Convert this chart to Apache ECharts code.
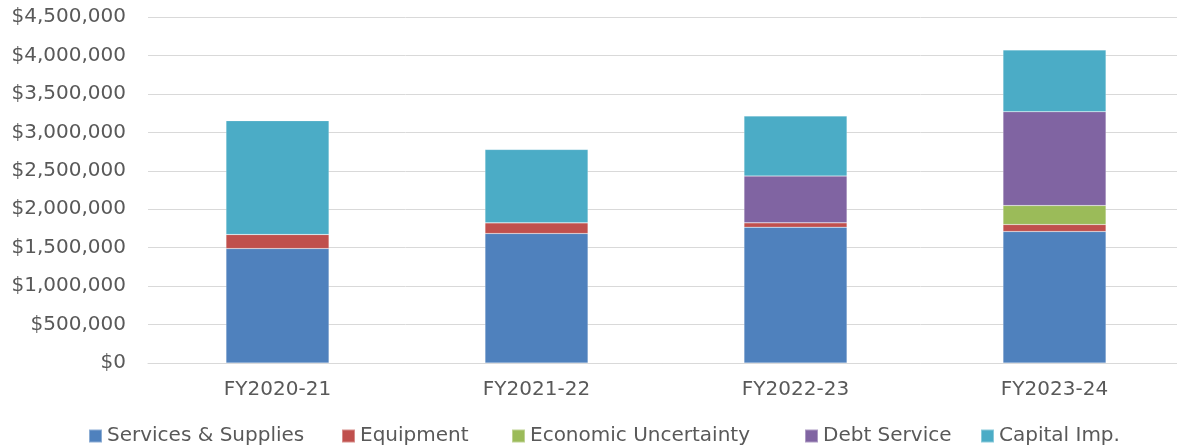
<!DOCTYPE html>
<html>
<head>
<meta charset="utf-8">
<script src="https://cdn.jsdelivr.net/npm/echarts@6/dist/echarts.min.js"></script>
<style>
  html, body { margin: 0; padding: 0; background: #fff; }
  #chart { width: 1177px; height: 445px; }
</style>
</head>
<body>
<div id="chart"></div>
<script>
const categories = ['FY2020-21', 'FY2021-22', 'FY2022-23', 'FY2023-24']
const servicesSupplies = [1488000, 1684000, 1767000, 1710000]
const equipment = [183000, 139000, 56000, 91000]
const economicUncertainty = [0, 0, 0, 247000]
const debtService = [0, 0, 608000, 1220000]
const capitalImp = [1480000, 954000, 781000, 804000]
const yTicks = [0, 500000, 1000000, 1500000, 2000000, 2500000, 3000000, 3500000, 4000000, 4500000]

const seriesDefs = [
  { name: 'Services & Supplies', data: servicesSupplies, color: '#4f81bd' },
  { name: 'Equipment', data: equipment, color: '#c0504d' },
  { name: 'Economic Uncertainty', data: economicUncertainty, color: '#9bbb59' },
  { name: 'Debt Service', data: debtService, color: '#8064a2' },
  { name: 'Capital Imp.', data: capitalImp, color: '#4bacc6' },
]
// left edge of each legend entry
const legendLeft = [83, 336, 506, 799, 975]

const font = '"DejaVu Sans", sans-serif'
const myChart = echarts.init(document.getElementById('chart'), null, { renderer: 'canvas' })

const option = {
  animation: false,
  textStyle: { fontFamily: font },
  // plot runs slightly past the right edge, as in the cropped original
  grid: { left: 148, width: 1036, top: 17, bottom: 82, containLabel: false, outerBoundsMode: 'none' },
  legend: seriesDefs.map((s, i) => ({
    bottom: -6,
    left: legendLeft[i],
    itemWidth: 13,
    itemHeight: 13,
    icon: 'rect',
    textStyle: { fontSize: 20, color: '#595959', fontFamily: font },
    data: [s.name],
  })),
  xAxis: {
    type: 'category',
    data: categories,
    axisTick: { show: false },
    axisLine: { lineStyle: { color: '#d9d9d9' } },
    axisLabel: { fontSize: 20, color: '#595959', margin: 17 },
  },
  yAxis: {
    type: 'value',
    min: yTicks[0],
    max: yTicks[yTicks.length - 1],
    interval: yTicks[1] - yTicks[0],
    axisLine: { show: false },
    axisTick: { show: false },
    splitLine: { lineStyle: { color: '#d9d9d9' } },
    axisLabel: {
      fontSize: 20,
      color: '#595959',
      margin: 22,
      formatter: (v) => '$' + v.toLocaleString('en-US'),
    },
  },
  series: seriesDefs.map((s) => ({
    name: s.name,
    type: 'bar',
    stack: 'total',
    barWidth: 103,
    data: s.data,
    itemStyle: { color: s.color, borderColor: 'rgba(255,255,255,0.35)', borderWidth: 0.5 },
  })),
}

myChart.setOption(option)
</script>
</body>
</html>
